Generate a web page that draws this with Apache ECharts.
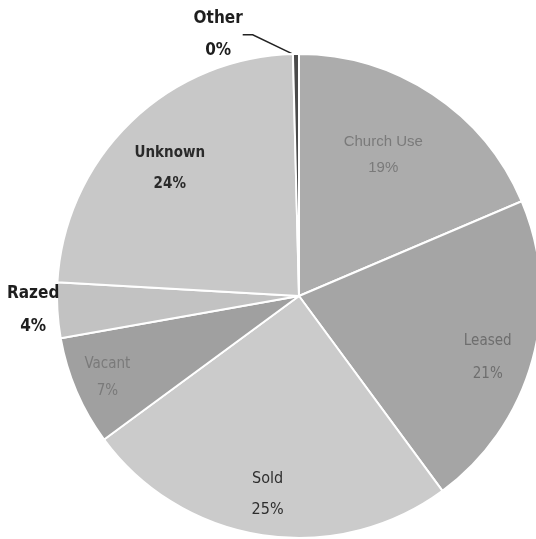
<!DOCTYPE html>
<html>
<head>
<meta charset="utf-8">
<script src="https://cdn.jsdelivr.net/npm/echarts@6/dist/echarts.min.js"></script>
<style>
  html, body { margin: 0; padding: 0; background: #fff; }
  #chart { width: 536px; height: 539px; }
</style>
</head>
<body>
<div id="chart"></div>
<script>
// slices, clockwise from 12 o'clock
const categories = ["Church Use", "Leased", "Sold", "Vacant", "Razed", "Unknown", "Other"];
const values = [18.6, 21.3, 25.0, 7.3, 3.7, 23.7, 0.4];

const colors = ["#acacac", "#a5a5a5", "#cbcbcb", "#a0a0a0", "#c2c2c2", "#c8c8c8", "#4a4a4a"];

// where each label sits: [angle from top in degrees, fraction of radius]
const labelSpot = {
  "Church Use": [30.8, 0.68],
  "Leased": [108, 0.82],
  "Sold": [189, 0.83],
  "Vacant": [247, 0.86],
  "Razed": [267, 1.10],
  "Unknown": [314.6, 0.75],
  "Other": [342.8, 1.13]
};

const narrow = "'DejaVu Sans Condensed', 'Liberation Sans Narrow', sans-serif";
const labelLook = {
  "Church Use": { color: "#7a7a7a", fontFamily: "'Liberation Sans', sans-serif", fontSize: 15, lineHeight: 26 },
  "Leased": { color: "#6e6e6e", fontFamily: narrow, fontSize: 15, lineHeight: 33 },
  "Sold": { color: "#2e2e2e", fontFamily: narrow, fontSize: 16, lineHeight: 31 },
  "Vacant": { color: "#7a7a7a", fontFamily: narrow, fontSize: 15, lineHeight: 27 },
  "Razed": { color: "#1e1e1e", fontFamily: narrow, fontSize: 17, fontWeight: "bold", lineHeight: 33 },
  "Unknown": { color: "#2a2a2a", fontFamily: narrow, fontSize: 15, fontWeight: "bold", lineHeight: 31 },
  "Other": { color: "#1e1e1e", fontFamily: narrow, fontSize: 17, fontWeight: "bold", lineHeight: 32 }
};

const cx = 299, cy = 296, R = 242;

const chart = echarts.init(document.getElementById("chart"), null, { renderer: "canvas" });

const data = categories.map((name, i) => {
  const item = {
    name: name,
    value: values[i],
    itemStyle: { color: colors[i] },
    label: Object.assign({}, labelLook[name])
  };
  if (name === "Other") {
    item.labelLine = { show: true, lineStyle: { color: "#222", width: 1.5 } };
  }
  return item;
});

chart.setOption({
  animation: false,
  backgroundColor: "#fff",
  series: [{
    type: "pie",
    center: [cx, cy],
    radius: [0, R],
    startAngle: 90,
    clockwise: true,
    avoidLabelOverlap: false,
    data: data,
    itemStyle: { borderColor: "#fff", borderWidth: 2 },
    label: {
      show: true,
      position: "inside",
      align: "center",
      formatter: (p) => p.name + "\n" + Math.round(p.percent) + "%"
    },
    labelLine: { show: false, length: 10, length2: 10 },
    labelLayout: (params) => {
      const name = categories[params.dataIndex];
      const spot = labelSpot[name];
      const a = spot[0] * Math.PI / 180;
      const x = cx + R * spot[1] * Math.sin(a);
      const y = cy - R * spot[1] * Math.cos(a);
      const out = { x: x, y: y, align: "center", verticalAlign: "middle" };
      if (name === "Other") {
        // leader from the sliver at the rim up to the end of "Other"
        out.labelLinePoints = [[cx - 1, cy - R + 2], [x + 38, y - 9], [x + 28, y - 9]];
      }
      return out;
    }
  }]
});
</script>
</body>
</html>
